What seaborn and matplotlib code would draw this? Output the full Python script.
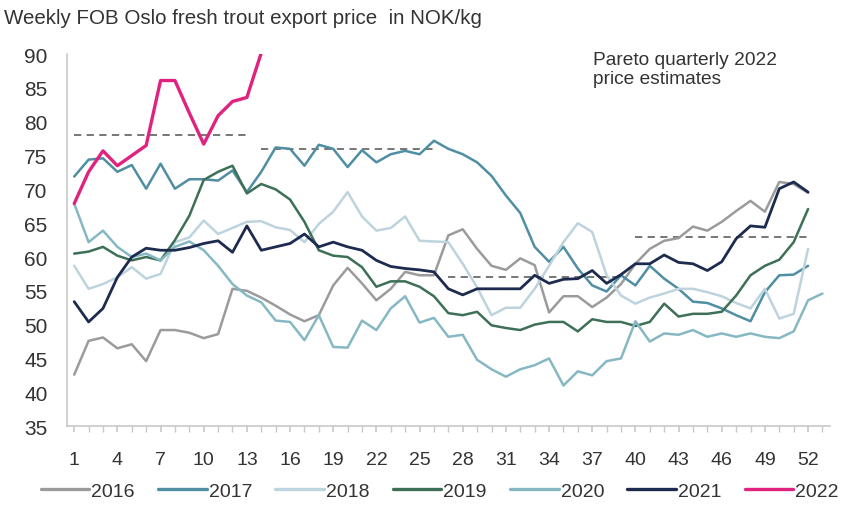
import numpy as np
import pandas as pd
import matplotlib
matplotlib.use("Agg")
import matplotlib.pyplot as plt
import seaborn as sns

# weekly FOB prices, NOK/kg
p2016 = [42.6, 47.6, 48.1, 46.5, 47.1, 44.6, 49.2, 49.2, 48.8, 48.0, 48.6, 55.3, 55.0,
         54.0, 52.8, 51.5, 50.5, 51.4, 55.8, 58.4, 56.1, 53.6, 55.3, 57.8, 57.3, 57.3,
         63.2, 64.1, 61.2, 58.7, 58.1, 59.8, 58.8, 51.8, 54.2, 54.2, 52.6, 54.0, 56.0,
         59.0, 61.2, 62.4, 62.8, 64.5, 63.9, 65.2, 66.8, 68.3, 66.7, 71.1, 70.8, 69.5]
p2017 = [71.9, 74.4, 74.6, 72.6, 73.6, 70.1, 73.8, 70.1, 71.5, 71.5, 71.3, 72.8, 69.6,
         72.6, 76.2, 76.0, 73.5, 76.6, 76.0, 73.3, 75.8, 74.0, 75.2, 75.7, 75.2, 77.2,
         76.0, 75.2, 74.0, 72.0, 69.1, 66.5, 61.5, 59.3, 61.5, 58.3, 55.8, 54.9, 57.3,
         55.8, 58.7, 56.8, 55.3, 53.4, 53.2, 52.4, 51.4, 50.5, 54.8, 57.3, 57.4, 58.7]
p2018 = [58.7, 55.3, 56.0, 57.0, 58.5, 56.8, 57.5, 62.2, 62.9, 65.4, 63.4, 64.3, 65.2,
         65.3, 64.4, 64.0, 62.2, 64.9, 66.7, 69.6, 66.0, 63.9, 64.3, 66.0, 62.4, 62.3,
         62.2, 59.0, 55.5, 51.4, 52.5, 52.5, 55.3, 58.7, 62.2, 65.0, 63.7, 57.3, 54.3,
         53.1, 54.0, 54.6, 55.3, 55.3, 54.8, 54.2, 53.2, 52.4, 55.3, 50.9, 51.6, 61.2]
p2019 = [60.5, 60.8, 61.5, 60.2, 59.5, 60.0, 59.5, 62.5, 66.1, 71.4, 72.6, 73.5, 69.4,
         70.8, 70.0, 68.5, 65.2, 61.0, 60.2, 60.0, 58.5, 55.6, 56.4, 56.4, 55.6, 54.2,
         51.7, 51.4, 51.9, 49.9, 49.5, 49.2, 50.0, 50.4, 50.4, 49.0, 50.8, 50.4, 50.4,
         49.8, 50.4, 53.1, 51.2, 51.6, 51.6, 51.9, 54.3, 57.3, 58.7, 59.6, 62.2, 67.1]
p2020 = [67.9, 62.2, 63.9, 61.5, 60.0, 60.5, 59.5, 61.5, 62.3, 61.0, 58.7, 56.0, 54.3,
         53.3, 50.6, 50.4, 47.7, 51.4, 46.7, 46.6, 50.6, 49.2, 52.4, 54.2, 50.3, 51.0,
         48.2, 48.5, 44.8, 43.4, 42.3, 43.4, 44.0, 45.0, 41.0, 43.1, 42.5, 44.6, 45.0,
         50.5, 47.5, 48.7, 48.5, 49.2, 48.2, 48.7, 48.2, 48.7, 48.2, 48.0, 49.0, 53.6, 54.6]
p2021 = [53.4, 50.4, 52.4, 57.0, 60.0, 61.3, 61.0, 61.0, 61.4, 62.0, 62.4, 60.7, 64.6,
         61.0, 61.5, 62.0, 63.4, 61.5, 62.2, 61.5, 61.0, 59.5, 58.6, 58.3, 58.1, 57.8,
         55.3, 54.4, 55.3, 55.3, 55.3, 55.3, 57.3, 56.1, 56.7, 56.8, 58.0, 56.1, 57.4,
         59.0, 59.0, 60.3, 59.2, 59.0, 58.0, 59.3, 62.7, 64.6, 64.4, 70.1, 71.1, 69.6]
p2022 = [67.9, 72.6, 75.7, 73.5, 75.0, 76.5, 86.1, 86.1, 81.3, 76.7, 80.9, 83.0, 83.6, 90.2]

years = ["2016", "2017", "2018", "2019", "2020", "2021", "2022"]
series = [p2016, p2017, p2018, p2019, p2020, p2021, p2022]
colors = ["#9b9b9b", "#4f8ea3", "#bdd3de", "#3e6f57", "#86b8c4", "#1c2b4e", "#e0237f"]

# Pareto quarterly 2022 estimates: (first week, last week, price)
q_start = [1, 14, 27, 40]
q_end = [13, 26, 39, 52]
q_price = [78, 76, 57, 63]

rows = []
for yr, vals in zip(years, series):
    for w, v in enumerate(vals, start=1):
        rows.append((yr, w, v))
df = pd.DataFrame(rows, columns=["year", "week", "price"])

sns.set_theme(style="white")
plt.rcParams["font.family"] = ["Liberation Sans", "DejaVu Sans"]

fig = plt.figure(figsize=(8.44, 5.06), dpi=100)
ax = fig.add_axes([0.0794, 0.156, 0.9036, 0.735])

for qs, qe, qp in zip(q_start, q_end, q_price):
    ax.plot([qs, qe], [qp, qp], color="#6b6b6b", lw=1.3, ls=(0, (4, 3)), zorder=1)

palette = dict(zip(years, colors))
sns.lineplot(data=df, x="week", y="price", hue="year", palette=palette,
             ax=ax, linewidth=1.8, legend=False, zorder=2)
# 2022 and 2021 a bit bolder, on top
ax.lines[-1].set_linewidth(2.4)
ax.lines[-1].set_zorder(5)
ax.lines[-2].set_linewidth(2.0)
ax.lines[-2].set_zorder(4)

ax.set_xlim(0.5, 53.5)
ax.set_ylim(35, 90)
ax.set_xticks(range(1, 53, 3))
ax.set_xticks(range(1, 54), minor=True)
ax.set_yticks(range(35, 91, 5))
ax.tick_params(axis="x", which="both", direction="out", length=4, color="#c8c8c8",
               bottom=True, labelsize=14, labelcolor="#333333", pad=14)
ax.tick_params(axis="y", which="both", left=False, labelsize=15, labelcolor="#333333", pad=8)
ax.set_xlabel("")
ax.set_ylabel("")
for s in ["top", "right"]:
    ax.spines[s].set_visible(False)
for s in ["left", "bottom"]:
    ax.spines[s].set_color("#c8c8c8")
    ax.spines[s].set_linewidth(1.2)

fig.text(0.005, 0.963, "Weekly FOB Oslo fresh trout export price  in NOK/kg",
         fontsize=14.8, color="#333333", va="center", ha="left")
fig.text(0.7026, 0.897, "Pareto quarterly 2022\nprice estimates",
         fontsize=13.8, color="#333333", va="top", ha="left", linespacing=1.12)

handles = [plt.Line2D([], [], color=c, lw=2.4) for c in colors]
fig.legend(handles, years, loc="center", bbox_to_anchor=(0.521, 0.027), ncol=7,
           frameon=False, fontsize=14, handlelength=2.5, handletextpad=0.1,
           columnspacing=1.2, labelcolor="#333333")

fig.savefig("out.png", dpi=100)
